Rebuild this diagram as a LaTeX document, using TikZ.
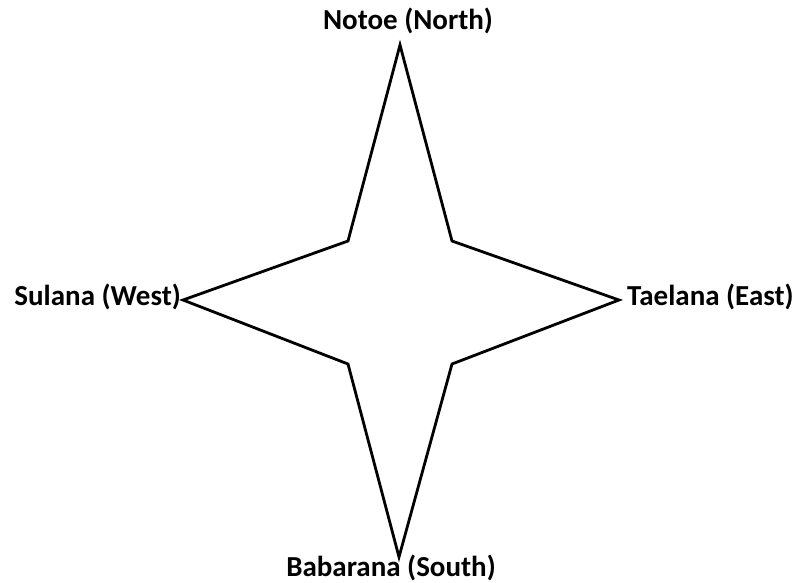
\documentclass[tikz,border=0pt]{standalone}
\usepackage{fontspec}
\setmainfont{Carlito}
\usetikzlibrary{positioning}

\begin{document}
\begin{tikzpicture}[x=1pt, y=-1pt, line join=miter, every node/.style={font=\fontsize{29}{32}\selectfont\bfseries, inner sep=0pt}]
\useasboundingbox (0,0) rectangle (801,582);
% star points
\coordinate (n) at (400,45);
\coordinate (e) at (619,300);
\coordinate (s) at (399,557);
\coordinate (w) at (183,300);
\coordinate (ne) at (452,241);
\coordinate (se) at (452,364);
\coordinate (sw) at (348,364);
\coordinate (nw) at (348,241);
\draw[line width=2.8pt] (n) -- (ne) -- (e) -- (se) -- (s) -- (sw) -- (w) -- (nw) -- cycle;
% labels
\node[anchor=base] (north) at (408,29) {Notoe (North)};
\node[anchor=base east] (west) at (181,305) {Sulana (West)};
\node[anchor=base west] (east) at (627,305) {Taelana (East)};
\node[anchor=base] (south) at (391,576) {Babarana (South)};
\end{tikzpicture}
\end{document}
